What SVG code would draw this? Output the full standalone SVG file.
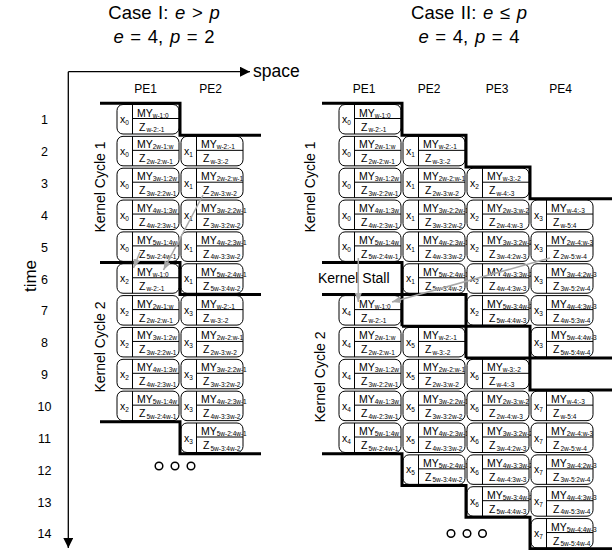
<svg xmlns="http://www.w3.org/2000/svg" width="613" height="550" viewBox="0 0 613 550">
<style>
text{font-family:"Liberation Sans",Arial,sans-serif;fill:#000}
.cells text{font-size:10.5px}
.s{font-size:6.5px}
.cr{fill:#fff;stroke:#000;stroke-width:1}
.dv{stroke:#000;stroke-width:1}
.k{fill:none;stroke:#000;stroke-width:3}
.g{stroke:#a8a8a8;stroke-width:1.5;fill:none}
.ax{stroke:#000;stroke-width:1.3;fill:none}
.title{font-size:18.5px;text-anchor:middle;word-spacing:1.5px}
.pe{font-size:12px;text-anchor:middle}
.tm{font-size:12.5px;text-anchor:middle}
.kc{font-size:14px;text-anchor:middle}
.dot{fill:none;stroke:#000;stroke-width:1.5}
</style>
<defs>
<g id="cell"><rect class="cr" x="0" y="0" width="62" height="29.5" rx="6"/><line class="dv" x1="15.5" y1="0" x2="15.5" y2="29.5"/><line class="dv" x1="15.5" y1="14" x2="62" y2="14"/></g>
<marker id="ga" markerWidth="9" markerHeight="7" refX="9" refY="3.5" orient="auto" markerUnits="userSpaceOnUse"><path d="M0,0 L9,3.5 L0,7 z" fill="#a8a8a8"/></marker>
<marker id="ba" markerWidth="10" markerHeight="10" refX="10" refY="5" orient="auto" markerUnits="userSpaceOnUse"><path d="M0,0 L10,5 L0,10 z" fill="#000"/></marker>
</defs>

<g id="titles">
<text class="title" x="164" y="19">Case I: <tspan font-style="italic">e</tspan> &gt; <tspan font-style="italic">p</tspan></text>
<text class="title" x="164" y="42.5"><tspan font-style="italic">e</tspan> = 4, <tspan font-style="italic">p</tspan> = 2</text>
<text class="title" x="469" y="19">Case II: <tspan font-style="italic">e</tspan> ≤ <tspan font-style="italic">p</tspan></text>
<text class="title" x="469" y="42.5"><tspan font-style="italic">e</tspan> = 4, <tspan font-style="italic">p</tspan> = 4</text>
</g>

<g id="axes">
<line class="ax" x1="68.3" y1="71.7" x2="68.3" y2="548" marker-end="url(#ba)"/>
<line class="ax" x1="68.3" y1="71.7" x2="250" y2="71.7" marker-end="url(#ba)"/>
<text x="253" y="77" font-size="17.5">space</text>
<text transform="translate(36,276) rotate(-90)" font-size="17" text-anchor="middle">time</text>
<g class="tm">
<text x="44.5" y="124">1</text><text x="44.5" y="156">2</text><text x="44.5" y="188">3</text><text x="44.5" y="219.5">4</text><text x="44.5" y="251.5">5</text><text x="44.5" y="283.5">6</text><text x="44.5" y="315">7</text><text x="44.5" y="347">8</text><text x="44.5" y="379">9</text><text x="44.5" y="410.5">10</text><text x="44.5" y="442.5">11</text><text x="44.5" y="474.5">12</text><text x="44.5" y="506.5">13</text><text x="44.5" y="538">14</text>
</g>
</g>

<g id="pe-labels" class="pe">
<text x="145.5" y="93">PE1</text><text x="210.5" y="93">PE2</text>
<text x="364" y="93">PE1</text><text x="429" y="93">PE2</text><text x="497" y="93">PE3</text><text x="560.5" y="93">PE4</text>
</g>

<g id="kernel-labels" class="kc">
<text transform="translate(105,187) rotate(-90)">Kernel Cycle 1</text>
<text transform="translate(105,347) rotate(-90)">Kernel Cycle 2</text>
<text transform="translate(314.5,187) rotate(-90)">Kernel Cycle 1</text>
<text transform="translate(324.5,377) rotate(-90)">Kernel Cycle 2</text>
<text x="318" y="283.3" text-anchor="start">Kernel Stall</text>
</g>

<g class="cells">
<!-- Case I -->
<g id="c1-r1-pe1" transform="translate(117,104.5)"><use href="#cell"/><text x="3" y="18.5">x<tspan class="s" dy="2">0</tspan></text><text x="20" y="12">MY<tspan class="s" dy="1">w-1:0</tspan></text><text x="22" y="26">Z<tspan class="s" dx="1" dy="1.5">w-2:-1</tspan></text></g>
<g id="c1-r2-pe1" transform="translate(117,136.35)"><use href="#cell"/><text x="3" y="18.5">x<tspan class="s" dy="2">0</tspan></text><text x="20" y="12">MY<tspan class="s" dy="1">2w-1:w</tspan></text><text x="22" y="26">Z<tspan class="s" dx="1" dy="1.5">2w-2:w-1</tspan></text></g>
<g id="c1-r2-pe2" transform="translate(181,136.35)"><use href="#cell"/><text x="3" y="18.5">x<tspan class="s" dy="2">1</tspan></text><text x="20" y="12">MY<tspan class="s" dy="1">w-2:-1</tspan></text><text x="22" y="26">Z<tspan class="s" dx="1" dy="1.5">w-3:-2</tspan></text></g>
<g id="c1-r3-pe1" transform="translate(117,168.2)"><use href="#cell"/><text x="3" y="18.5">x<tspan class="s" dy="2">0</tspan></text><text x="20" y="12">MY<tspan class="s" dy="1">3w-1:2w</tspan></text><text x="22" y="26">Z<tspan class="s" dx="1" dy="1.5">3w-2:2w-1</tspan></text></g>
<g id="c1-r3-pe2" transform="translate(181,168.2)"><use href="#cell"/><text x="3" y="18.5">x<tspan class="s" dy="2">1</tspan></text><text x="20" y="12">MY<tspan class="s" dy="1">2w-2:w-1</tspan></text><text x="22" y="26">Z<tspan class="s" dx="1" dy="1.5">2w-3:w-2</tspan></text></g>
<g id="c1-r4-pe1" transform="translate(117,200.05)"><use href="#cell"/><text x="3" y="18.5">x<tspan class="s" dy="2">0</tspan></text><text x="20" y="12">MY<tspan class="s" dy="1">4w-1:3w</tspan></text><text x="22" y="26">Z<tspan class="s" dx="1" dy="1.5">4w-2:3w-1</tspan></text></g>
<g id="c1-r4-pe2" transform="translate(181,200.05)"><use href="#cell"/><text x="3" y="18.5">x<tspan class="s" dy="2">1</tspan></text><text x="20" y="12">MY<tspan class="s" dy="1">3w-2:2w-1</tspan></text><text x="22" y="26">Z<tspan class="s" dx="1" dy="1.5">3w-3:2w-2</tspan></text></g>
<g id="c1-r5-pe1" transform="translate(117,231.9)"><use href="#cell"/><text x="3" y="18.5">x<tspan class="s" dy="2">0</tspan></text><text x="20" y="12">MY<tspan class="s" dy="1">5w-1:4w</tspan></text><text x="22" y="26">Z<tspan class="s" dx="1" dy="1.5">5w-2:4w-1</tspan></text></g>
<g id="c1-r5-pe2" transform="translate(181,231.9)"><use href="#cell"/><text x="3" y="18.5">x<tspan class="s" dy="2">1</tspan></text><text x="20" y="12">MY<tspan class="s" dy="1">4w-2:3w-1</tspan></text><text x="22" y="26">Z<tspan class="s" dx="1" dy="1.5">4w-3:3w-2</tspan></text></g>
<g id="c1-r6-pe1" transform="translate(117,263.75)"><use href="#cell"/><text x="3" y="18.5">x<tspan class="s" dy="2">2</tspan></text><text x="20" y="12">MY<tspan class="s" dy="1">w-1:0</tspan></text><text x="22" y="26">Z<tspan class="s" dx="1" dy="1.5">w-2:-1</tspan></text></g>
<g id="c1-r6-pe2" transform="translate(181,263.75)"><use href="#cell"/><text x="3" y="18.5">x<tspan class="s" dy="2">1</tspan></text><text x="20" y="12">MY<tspan class="s" dy="1">5w-2:4w-1</tspan></text><text x="22" y="26">Z<tspan class="s" dx="1" dy="1.5">5w-3:4w-2</tspan></text></g>
<g id="c1-r7-pe1" transform="translate(117,295.6)"><use href="#cell"/><text x="3" y="18.5">x<tspan class="s" dy="2">2</tspan></text><text x="20" y="12">MY<tspan class="s" dy="1">2w-1:w</tspan></text><text x="22" y="26">Z<tspan class="s" dx="1" dy="1.5">2w-2:w-1</tspan></text></g>
<g id="c1-r7-pe2" transform="translate(181,295.6)"><use href="#cell"/><text x="3" y="18.5">x<tspan class="s" dy="2">3</tspan></text><text x="20" y="12">MY<tspan class="s" dy="1">w-2:-1</tspan></text><text x="22" y="26">Z<tspan class="s" dx="1" dy="1.5">w-3:-2</tspan></text></g>
<g id="c1-r8-pe1" transform="translate(117,327.45)"><use href="#cell"/><text x="3" y="18.5">x<tspan class="s" dy="2">2</tspan></text><text x="20" y="12">MY<tspan class="s" dy="1">3w-1:2w</tspan></text><text x="22" y="26">Z<tspan class="s" dx="1" dy="1.5">3w-2:2w-1</tspan></text></g>
<g id="c1-r8-pe2" transform="translate(181,327.45)"><use href="#cell"/><text x="3" y="18.5">x<tspan class="s" dy="2">3</tspan></text><text x="20" y="12">MY<tspan class="s" dy="1">2w-2:w-1</tspan></text><text x="22" y="26">Z<tspan class="s" dx="1" dy="1.5">2w-3:w-2</tspan></text></g>
<g id="c1-r9-pe1" transform="translate(117,359.3)"><use href="#cell"/><text x="3" y="18.5">x<tspan class="s" dy="2">2</tspan></text><text x="20" y="12">MY<tspan class="s" dy="1">4w-1:3w</tspan></text><text x="22" y="26">Z<tspan class="s" dx="1" dy="1.5">4w-2:3w-1</tspan></text></g>
<g id="c1-r9-pe2" transform="translate(181,359.3)"><use href="#cell"/><text x="3" y="18.5">x<tspan class="s" dy="2">3</tspan></text><text x="20" y="12">MY<tspan class="s" dy="1">3w-2:2w-1</tspan></text><text x="22" y="26">Z<tspan class="s" dx="1" dy="1.5">3w-3:2w-2</tspan></text></g>
<g id="c1-r10-pe1" transform="translate(117,391.15)"><use href="#cell"/><text x="3" y="18.5">x<tspan class="s" dy="2">2</tspan></text><text x="20" y="12">MY<tspan class="s" dy="1">5w-1:4w</tspan></text><text x="22" y="26">Z<tspan class="s" dx="1" dy="1.5">5w-2:4w-1</tspan></text></g>
<g id="c1-r10-pe2" transform="translate(181,391.15)"><use href="#cell"/><text x="3" y="18.5">x<tspan class="s" dy="2">3</tspan></text><text x="20" y="12">MY<tspan class="s" dy="1">4w-2:3w-1</tspan></text><text x="22" y="26">Z<tspan class="s" dx="1" dy="1.5">4w-3:3w-2</tspan></text></g>
<g id="c1-r11-pe2" transform="translate(181,423)"><use href="#cell"/><text x="3" y="18.5">x<tspan class="s" dy="2">3</tspan></text><text x="20" y="12">MY<tspan class="s" dy="1">5w-2:4w-1</tspan></text><text x="22" y="26">Z<tspan class="s" dx="1" dy="1.5">5w-3:4w-2</tspan></text></g>

<!-- Case II PE1 -->
<g id="c2-r1-pe1" transform="translate(339,104.5)"><use href="#cell"/><text x="3" y="18.5">x<tspan class="s" dy="2">0</tspan></text><text x="20" y="12">MY<tspan class="s" dy="1">w-1:0</tspan></text><text x="22" y="26">Z<tspan class="s" dx="1" dy="1.5">w-2:-1</tspan></text></g>
<g id="c2-r2-pe1" transform="translate(339,136.35)"><use href="#cell"/><text x="3" y="18.5">x<tspan class="s" dy="2">0</tspan></text><text x="20" y="12">MY<tspan class="s" dy="1">2w-1:w</tspan></text><text x="22" y="26">Z<tspan class="s" dx="1" dy="1.5">2w-2:w-1</tspan></text></g>
<g id="c2-r3-pe1" transform="translate(339,168.2)"><use href="#cell"/><text x="3" y="18.5">x<tspan class="s" dy="2">0</tspan></text><text x="20" y="12">MY<tspan class="s" dy="1">3w-1:2w</tspan></text><text x="22" y="26">Z<tspan class="s" dx="1" dy="1.5">3w-2:2w-1</tspan></text></g>
<g id="c2-r4-pe1" transform="translate(339,200.05)"><use href="#cell"/><text x="3" y="18.5">x<tspan class="s" dy="2">0</tspan></text><text x="20" y="12">MY<tspan class="s" dy="1">4w-1:3w</tspan></text><text x="22" y="26">Z<tspan class="s" dx="1" dy="1.5">4w-2:3w-1</tspan></text></g>
<g id="c2-r5-pe1" transform="translate(339,231.9)"><use href="#cell"/><text x="3" y="18.5">x<tspan class="s" dy="2">0</tspan></text><text x="20" y="12">MY<tspan class="s" dy="1">5w-1:4w</tspan></text><text x="22" y="26">Z<tspan class="s" dx="1" dy="1.5">5w-2:4w-1</tspan></text></g>
<g id="c2-r7-pe1" transform="translate(339,295.6)"><use href="#cell"/><text x="3" y="18.5">x<tspan class="s" dy="2">4</tspan></text><text x="20" y="12">MY<tspan class="s" dy="1">w-1:0</tspan></text><text x="22" y="26">Z<tspan class="s" dx="1" dy="1.5">w-2:-1</tspan></text></g>
<g id="c2-r8-pe1" transform="translate(339,327.45)"><use href="#cell"/><text x="3" y="18.5">x<tspan class="s" dy="2">4</tspan></text><text x="20" y="12">MY<tspan class="s" dy="1">2w-1:w</tspan></text><text x="22" y="26">Z<tspan class="s" dx="1" dy="1.5">2w-2:w-1</tspan></text></g>
<g id="c2-r9-pe1" transform="translate(339,359.3)"><use href="#cell"/><text x="3" y="18.5">x<tspan class="s" dy="2">4</tspan></text><text x="20" y="12">MY<tspan class="s" dy="1">3w-1:2w</tspan></text><text x="22" y="26">Z<tspan class="s" dx="1" dy="1.5">3w-2:2w-1</tspan></text></g>
<g id="c2-r10-pe1" transform="translate(339,391.15)"><use href="#cell"/><text x="3" y="18.5">x<tspan class="s" dy="2">4</tspan></text><text x="20" y="12">MY<tspan class="s" dy="1">4w-1:3w</tspan></text><text x="22" y="26">Z<tspan class="s" dx="1" dy="1.5">4w-2:3w-1</tspan></text></g>
<g id="c2-r11-pe1" transform="translate(339,423)"><use href="#cell"/><text x="3" y="18.5">x<tspan class="s" dy="2">4</tspan></text><text x="20" y="12">MY<tspan class="s" dy="1">5w-1:4w</tspan></text><text x="22" y="26">Z<tspan class="s" dx="1" dy="1.5">5w-2:4w-1</tspan></text></g>

<!-- Case II PE2 -->
<g id="c2-r2-pe2" transform="translate(403,136.35)"><use href="#cell"/><text x="3" y="18.5">x<tspan class="s" dy="2">1</tspan></text><text x="20" y="12">MY<tspan class="s" dy="1">w-2:-1</tspan></text><text x="22" y="26">Z<tspan class="s" dx="1" dy="1.5">w-3:-2</tspan></text></g>
<g id="c2-r3-pe2" transform="translate(403,168.2)"><use href="#cell"/><text x="3" y="18.5">x<tspan class="s" dy="2">1</tspan></text><text x="20" y="12">MY<tspan class="s" dy="1">2w-2:w-1</tspan></text><text x="22" y="26">Z<tspan class="s" dx="1" dy="1.5">2w-3:w-2</tspan></text></g>
<g id="c2-r4-pe2" transform="translate(403,200.05)"><use href="#cell"/><text x="3" y="18.5">x<tspan class="s" dy="2">1</tspan></text><text x="20" y="12">MY<tspan class="s" dy="1">3w-2:2w-1</tspan></text><text x="22" y="26">Z<tspan class="s" dx="1" dy="1.5">3w-3:2w-2</tspan></text></g>
<g id="c2-r5-pe2" transform="translate(403,231.9)"><use href="#cell"/><text x="3" y="18.5">x<tspan class="s" dy="2">1</tspan></text><text x="20" y="12">MY<tspan class="s" dy="1">4w-2:3w-1</tspan></text><text x="22" y="26">Z<tspan class="s" dx="1" dy="1.5">4w-3:3w-2</tspan></text></g>
<g id="c2-r6-pe2" transform="translate(403,263.75)"><use href="#cell"/><text x="3" y="18.5">x<tspan class="s" dy="2">1</tspan></text><text x="20" y="12">MY<tspan class="s" dy="1">5w-2:4w-1</tspan></text><text x="22" y="26">Z<tspan class="s" dx="1" dy="1.5">5w-3:4w-2</tspan></text></g>
<g id="c2-r8-pe2" transform="translate(403,327.45)"><use href="#cell"/><text x="3" y="18.5">x<tspan class="s" dy="2">5</tspan></text><text x="20" y="12">MY<tspan class="s" dy="1">w-2:-1</tspan></text><text x="22" y="26">Z<tspan class="s" dx="1" dy="1.5">w-3:-2</tspan></text></g>
<g id="c2-r9-pe2" transform="translate(403,359.3)"><use href="#cell"/><text x="3" y="18.5">x<tspan class="s" dy="2">5</tspan></text><text x="20" y="12">MY<tspan class="s" dy="1">2w-2:w-1</tspan></text><text x="22" y="26">Z<tspan class="s" dx="1" dy="1.5">2w-3:w-2</tspan></text></g>
<g id="c2-r10-pe2" transform="translate(403,391.15)"><use href="#cell"/><text x="3" y="18.5">x<tspan class="s" dy="2">5</tspan></text><text x="20" y="12">MY<tspan class="s" dy="1">3w-2:2w-1</tspan></text><text x="22" y="26">Z<tspan class="s" dx="1" dy="1.5">3w-3:2w-2</tspan></text></g>
<g id="c2-r11-pe2" transform="translate(403,423)"><use href="#cell"/><text x="3" y="18.5">x<tspan class="s" dy="2">5</tspan></text><text x="20" y="12">MY<tspan class="s" dy="1">4w-2:3w-1</tspan></text><text x="22" y="26">Z<tspan class="s" dx="1" dy="1.5">4w-3:3w-2</tspan></text></g>
<g id="c2-r12-pe2" transform="translate(403,454.85)"><use href="#cell"/><text x="3" y="18.5">x<tspan class="s" dy="2">5</tspan></text><text x="20" y="12">MY<tspan class="s" dy="1">5w-2:4w-1</tspan></text><text x="22" y="26">Z<tspan class="s" dx="1" dy="1.5">5w-3:4w-2</tspan></text></g>

<!-- Case II PE3 -->
<g id="c2-r3-pe3" transform="translate(467,168.2)"><use href="#cell"/><text x="3" y="18.5">x<tspan class="s" dy="2">2</tspan></text><text x="20" y="12">MY<tspan class="s" dy="1">w-3:-2</tspan></text><text x="22" y="26">Z<tspan class="s" dx="1" dy="1.5">w-4:-3</tspan></text></g>
<g id="c2-r4-pe3" transform="translate(467,200.05)"><use href="#cell"/><text x="3" y="18.5">x<tspan class="s" dy="2">2</tspan></text><text x="20" y="12">MY<tspan class="s" dy="1">2w-3:w-2</tspan></text><text x="22" y="26">Z<tspan class="s" dx="1" dy="1.5">2w-4:w-3</tspan></text></g>
<g id="c2-r5-pe3" transform="translate(467,231.9)"><use href="#cell"/><text x="3" y="18.5">x<tspan class="s" dy="2">2</tspan></text><text x="20" y="12">MY<tspan class="s" dy="1">3w-3:2w-2</tspan></text><text x="22" y="26">Z<tspan class="s" dx="1" dy="1.5">3w-4:2w-3</tspan></text></g>
<g id="c2-r6-pe3" transform="translate(467,263.75)"><use href="#cell"/><text x="3" y="18.5">x<tspan class="s" dy="2">2</tspan></text><text x="20" y="12">MY<tspan class="s" dy="1">4w-3:3w-2</tspan></text><text x="22" y="26">Z<tspan class="s" dx="1" dy="1.5">4w-4:3w-3</tspan></text></g>
<g id="c2-r7-pe3" transform="translate(467,295.6)"><use href="#cell"/><text x="3" y="18.5">x<tspan class="s" dy="2">2</tspan></text><text x="20" y="12">MY<tspan class="s" dy="1">5w-3:4w-2</tspan></text><text x="22" y="26">Z<tspan class="s" dx="1" dy="1.5">5w-4:4w-3</tspan></text></g>
<g id="c2-r9-pe3" transform="translate(467,359.3)"><use href="#cell"/><text x="3" y="18.5">x<tspan class="s" dy="2">6</tspan></text><text x="20" y="12">MY<tspan class="s" dy="1">w-3:-2</tspan></text><text x="22" y="26">Z<tspan class="s" dx="1" dy="1.5">w-4:-3</tspan></text></g>
<g id="c2-r10-pe3" transform="translate(467,391.15)"><use href="#cell"/><text x="3" y="18.5">x<tspan class="s" dy="2">6</tspan></text><text x="20" y="12">MY<tspan class="s" dy="1">2w-3:w-2</tspan></text><text x="22" y="26">Z<tspan class="s" dx="1" dy="1.5">2w-4:w-3</tspan></text></g>
<g id="c2-r11-pe3" transform="translate(467,423)"><use href="#cell"/><text x="3" y="18.5">x<tspan class="s" dy="2">6</tspan></text><text x="20" y="12">MY<tspan class="s" dy="1">3w-3:2w-2</tspan></text><text x="22" y="26">Z<tspan class="s" dx="1" dy="1.5">3w-4:2w-3</tspan></text></g>
<g id="c2-r12-pe3" transform="translate(467,454.85)"><use href="#cell"/><text x="3" y="18.5">x<tspan class="s" dy="2">6</tspan></text><text x="20" y="12">MY<tspan class="s" dy="1">4w-3:3w-2</tspan></text><text x="22" y="26">Z<tspan class="s" dx="1" dy="1.5">4w-4:3w-3</tspan></text></g>
<g id="c2-r13-pe3" transform="translate(467,486.7)"><use href="#cell"/><text x="3" y="18.5">x<tspan class="s" dy="2">6</tspan></text><text x="20" y="12">MY<tspan class="s" dy="1">5w-3:4w-2</tspan></text><text x="22" y="26">Z<tspan class="s" dx="1" dy="1.5">5w-4:4w-3</tspan></text></g>

<!-- Case II PE4 -->
<g id="c2-r4-pe4" transform="translate(531,200.05)"><use href="#cell"/><text x="3" y="18.5">x<tspan class="s" dy="2">3</tspan></text><text x="20" y="12">MY<tspan class="s" dy="1">w-4:-3</tspan></text><text x="22" y="26">Z<tspan class="s" dx="1" dy="1.5">w-5:4</tspan></text></g>
<g id="c2-r5-pe4" transform="translate(531,231.9)"><use href="#cell"/><text x="3" y="18.5">x<tspan class="s" dy="2">3</tspan></text><text x="20" y="12">MY<tspan class="s" dy="1">2w-4:w-3</tspan></text><text x="22" y="26">Z<tspan class="s" dx="1" dy="1.5">2w-5:w-4</tspan></text></g>
<g id="c2-r6-pe4" transform="translate(531,263.75)"><use href="#cell"/><text x="3" y="18.5">x<tspan class="s" dy="2">3</tspan></text><text x="20" y="12">MY<tspan class="s" dy="1">3w-4:2w-3</tspan></text><text x="22" y="26">Z<tspan class="s" dx="1" dy="1.5">3w-5:2w-4</tspan></text></g>
<g id="c2-r7-pe4" transform="translate(531,295.6)"><use href="#cell"/><text x="3" y="18.5">x<tspan class="s" dy="2">3</tspan></text><text x="20" y="12">MY<tspan class="s" dy="1">4w-4:3w-3</tspan></text><text x="22" y="26">Z<tspan class="s" dx="1" dy="1.5">4w-5:3w-4</tspan></text></g>
<g id="c2-r8-pe4" transform="translate(531,327.45)"><use href="#cell"/><text x="3" y="18.5">x<tspan class="s" dy="2">3</tspan></text><text x="20" y="12">MY<tspan class="s" dy="1">5w-4:4w-3</tspan></text><text x="22" y="26">Z<tspan class="s" dx="1" dy="1.5">5w-5:4w-4</tspan></text></g>
<g id="c2-r10-pe4" transform="translate(531,391.15)"><use href="#cell"/><text x="3" y="18.5">x<tspan class="s" dy="2">7</tspan></text><text x="20" y="12">MY<tspan class="s" dy="1">w-4:-3</tspan></text><text x="22" y="26">Z<tspan class="s" dx="1" dy="1.5">w-5:4</tspan></text></g>
<g id="c2-r11-pe4" transform="translate(531,423)"><use href="#cell"/><text x="3" y="18.5">x<tspan class="s" dy="2">7</tspan></text><text x="20" y="12">MY<tspan class="s" dy="1">2w-4:w-3</tspan></text><text x="22" y="26">Z<tspan class="s" dx="1" dy="1.5">2w-5:w-4</tspan></text></g>
<g id="c2-r12-pe4" transform="translate(531,454.85)"><use href="#cell"/><text x="3" y="18.5">x<tspan class="s" dy="2">7</tspan></text><text x="20" y="12">MY<tspan class="s" dy="1">3w-4:2w-3</tspan></text><text x="22" y="26">Z<tspan class="s" dx="1" dy="1.5">3w-5:2w-4</tspan></text></g>
<g id="c2-r13-pe4" transform="translate(531,486.7)"><use href="#cell"/><text x="3" y="18.5">x<tspan class="s" dy="2">7</tspan></text><text x="20" y="12">MY<tspan class="s" dy="1">4w-4:3w-3</tspan></text><text x="22" y="26">Z<tspan class="s" dx="1" dy="1.5">4w-5:3w-4</tspan></text></g>
<g id="c2-r14-pe4" transform="translate(531,518.55)"><use href="#cell"/><text x="3" y="18.5">x<tspan class="s" dy="2">7</tspan></text><text x="20" y="12">MY<tspan class="s" dy="1">5w-4:4w-3</tspan></text><text x="22" y="26">Z<tspan class="s" dx="1" dy="1.5">5w-5:4w-4</tspan></text></g>
</g>

<g id="boundaries" class="k">
<path d="M100,103.3 H180 V135.15 H261"/>
<path d="M100,262.55 H180 V294.4 H261"/>
<path d="M100,421.8 H180 V453.65 H261"/>
<path d="M322,103.3 H402 V135.15 H466 V167 H530 V198.85 H612"/>
<path d="M322,262.55 H402 V326.25"/>
<path d="M322,294.4 H466 V358.1"/>
<path d="M402,326.25 H530 V389.95 H612"/>
<path d="M466,358.1 H612"/>
<path d="M322,453.65 H402 V485.5 H466 V517.35 H530 V548.8 H612"/>
</g>

<g id="connectors" class="g">
<line x1="140" y1="252" x2="133.5" y2="268" marker-end="url(#ga)"/>
<line x1="203" y1="195" x2="163.5" y2="270" marker-end="url(#ga)"/>
<line x1="358.3" y1="258" x2="358.3" y2="302" marker-end="url(#ga)"/>
<line x1="550" y1="258" x2="392" y2="302" marker-end="url(#ga)"/>
</g>

<g id="ellipsis" class="dot">
<circle cx="159" cy="466" r="3.8"/><circle cx="175" cy="466" r="3.8"/><circle cx="191" cy="466" r="3.8"/>
<circle cx="451" cy="533.5" r="3.8"/><circle cx="467" cy="533.5" r="3.8"/><circle cx="482.5" cy="533.5" r="3.8"/>
</g>
</svg>
